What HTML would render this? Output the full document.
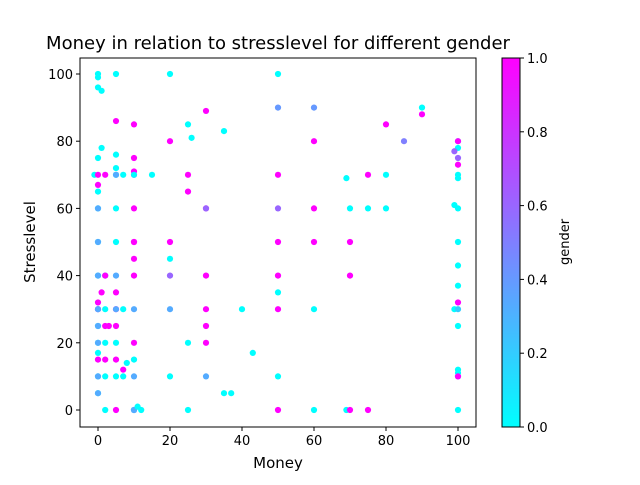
<!DOCTYPE html>
<html><head><meta charset="utf-8"><style>
body{margin:0;background:#fff;}
svg text{font-family:"DejaVu Sans","Liberation Sans",sans-serif;fill:#000;}
</style></head><body>
<svg width="640" height="480" id="svg">
<defs><linearGradient id="cg" x1="0" y1="1" x2="0" y2="0"><stop offset="0" stop-color="#00ffff"/><stop offset="1" stop-color="#ff00ff"/></linearGradient></defs>
<rect x="0" y="0" width="640" height="480" fill="#fff"/>
<text x="278" y="49" font-size="18" text-anchor="middle">Money in relation to stresslevel for different gender</text>
<g id="plot"></g>
<rect x="80" y="58" width="396" height="369" fill="none" stroke="#000" stroke-width="1"/>
<g id="xt"></g>
<g id="yt"></g>
<text x="278" y="468" font-size="15" text-anchor="middle">Money</text>
<text transform="translate(35,242) rotate(-90)" font-size="15" text-anchor="middle">Stresslevel</text>
<rect x="502" y="58" width="18" height="369" fill="url(#cg)" stroke="#000" stroke-width="1"/>
<g id="ct"></g>
<text transform="translate(569,242) rotate(-90)" font-size="13" text-anchor="middle">gender</text>
</svg>
<script>
const xTicks=[0,20,40,60,80,100];
const yTicks=[0,20,40,60,80,100];
const cTicks=["0.0","0.2","0.4","0.6","0.8","1.0"];
const money=[0,0,0,1,1,0,-1,0,0,0,0,0,0,0,0,0,0,2,0,0,2,1,0,0,0,0,0,0,0,0,0,0,0,2,2,2,2,2,3,2,2,5,5,5,5,5,5,5,5,5,5,5,5,5,5,5,5,5,7,7,7,7,8,10,10,10,10,10,10,10,10,10,10,10,10,10,10,10,10,10,11,12,15,20,20,20,20,20,20,20,25,25,25,25,25,26,30,30,30,30,30,30,30,30,35,35,37,40,43,50,50,50,50,50,50,50,50,50,50,60,60,60,60,60,60,69,69,70,70,70,70,75,75,75,80,80,80,85,90,90,100,100,100,100,99,100,100,100,100,99,100,100,100,100,100,100,100,100,100,100,99,100,100];
const stress=[100,99,96,95,78,75,70,65,60,50,40,30,25,20,17,10,5,0,70,67,70,35,32,30,15,60,50,40,30,20,10,5,25,40,30,20,10,25,25,15,40,86,35,30,25,15,0,100,76,72,70,60,50,20,10,40,30,70,30,10,70,12,14,85,75,71,70,60,50,45,40,20,0,70,15,0,30,10,0,50,1,0,70,100,45,10,80,50,30,40,85,20,0,70,65,81,89,60,40,30,25,20,10,60,83,5,5,30,17,100,35,10,90,60,70,50,40,30,0,90,80,60,50,30,0,69,0,50,40,0,60,70,0,60,85,70,60,80,90,88,80,78,70,69,61,60,50,43,37,30,25,12,11,10,0,80,73,32,10,75,77,30];
const gender=[0,0,0,0,0,0,0,0,0,0,0,0,0,0,0,0,0,0,1,1,1,1,1,1,1,0.33,0.33,0.33,0.33,0.33,0.33,0.33,0.33,0,0,0,0,1,1,1,1,1,1,1,1,1,1,0,0,0,0,0,0,0,0,0.33,0.33,0.33,0,0,0,1,0,1,1,1,1,1,1,1,1,1,1,0,0,0,0.33,0.33,0.33,1,0,0,0,0,0,0,1,1,0.33,0.6,0,0,0,1,1,0,1,1,1,1,1,1,0.33,0.6,0,0,0,0,0,0,0,0,0.4,0.6,1,1,1,1,1,0.4,1,1,1,0,0,0,0,1,1,1,0,1,1,0,1,0,0,0.5,0,1,0,0,0,0,0,0,0,0,0,0,0,0,0,0,0,1,1,1,1,0.6,0.6,0.2];
const X=v=>98+v*3.6, Y=v=>410-v*3.36;
const NS="http://www.w3.org/2000/svg";
function mk(t,p,a){const e=document.createElementNS(NS,t);for(const k in a)e.setAttribute(k,a[k]);p.appendChild(e);return e;}
const plot=document.getElementById('plot');
const n=Math.min(money.length,stress.length,gender.length);
for(let i=0;i<n;i++){const g=gender[i];
const c=mk('circle',plot,{cx:X(money[i]),cy:Y(stress[i]),r:3.1,fill:`rgb(${Math.round(255*g)},${Math.round(255*(1-g))},255)`});

}
const xt=document.getElementById('xt');
xTicks.forEach(v=>{mk('line',xt,{x1:X(v),x2:X(v),y1:427,y2:431,stroke:'#000'});
const t=mk('text',xt,{x:X(v),y:445,'font-size':13,'text-anchor':'middle'});t.textContent=v;

});
const yt=document.getElementById('yt');
yTicks.forEach(v=>{mk('line',yt,{x1:76,x2:80,y1:Y(v),y2:Y(v),stroke:'#000'});
const t=mk('text',yt,{x:73,y:Y(v)+5,'font-size':13,'text-anchor':'end'});t.textContent=v;

});
const ct=document.getElementById('ct');
cTicks.forEach((s,i)=>{const y=427-i*369/5;mk('line',ct,{x1:520,x2:524,y1:y,y2:y,stroke:'#000'});
const t=mk('text',ct,{x:527,y:y+5,'font-size':13});t.textContent=s;

});
</script>
</body></html>
